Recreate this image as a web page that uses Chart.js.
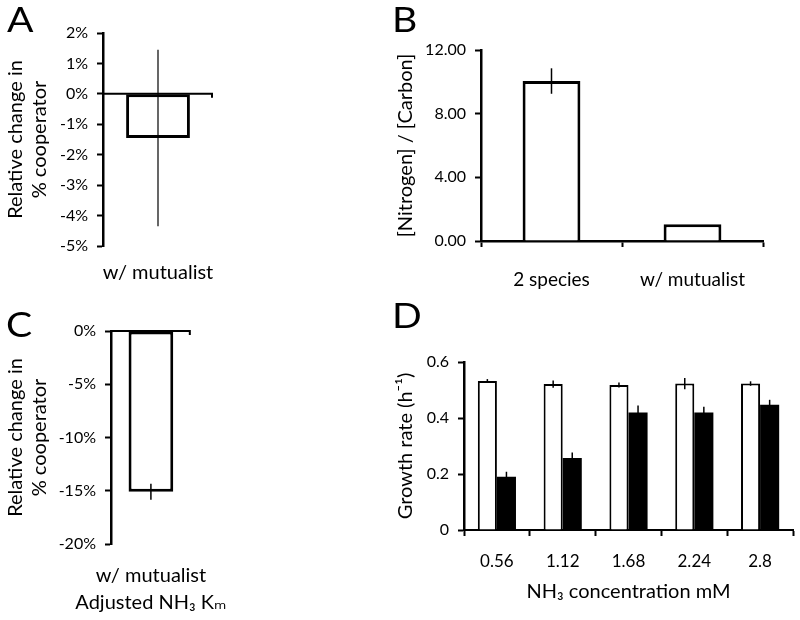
<!DOCTYPE html>
<html>
<head>
<meta charset="utf-8">
<script src="https://cdn.jsdelivr.net/npm/chart.js@4"></script>
<style>
  body { margin: 0; background: #fff; width: 800px; height: 620px; position: relative; overflow: hidden; }
  canvas { position: absolute; }
  .letter { position: absolute; font-family: Lato, "DejaVu Sans", sans-serif; font-size: 34px; color: #000; line-height: 1; transform-origin: left top; transform: scaleX(1.15); }
</style>
</head>
<body>
<canvas id="chartA" width="260" height="300" style="left:0; top:0;"></canvas>
<canvas id="chartB" width="410" height="300" style="left:390px; top:0;"></canvas>
<canvas id="chartC" width="260" height="320" style="left:0; top:300px;"></canvas>
<canvas id="chartD" width="410" height="320" style="left:390px; top:300px;"></canvas>

<div class="letter" style="left:7px; top:2px;">A</div>
<div class="letter" style="left:392px; top:2px;">B</div>
<div class="letter" style="left:6px; top:307px;">C</div>
<div class="letter" style="left:392px; top:298px;">D</div>

<script>
/* Data */
var catA = ['w/ mutualist'];
var valA = [-1.45];
var errA = [2.9];

var catB = ['2 species', 'w/ mutualist'];
var valB = [10.05, 1.05];
var errB = [0.8, 0];

var catC = [['w/ mutualist', 'Adjusted NH\u2083 K\u2098']];
var valC = [-15.1];
var errC = [0.75];

var catD = ['0.56', '1.12', '1.68', '2.24', '2.8'];
var whiteD = [0.532, 0.521, 0.518, 0.523, 0.523];
var whiteErrD = [0.007, 0.013, 0.009, 0.02, 0.008];
var blackD = [0.19, 0.257, 0.42, 0.42, 0.447];
var blackErrD = [0.018, 0.02, 0.025, 0.02, 0.018];

Chart.defaults.font.family = 'Lato, "DejaVu Sans", sans-serif';
Chart.defaults.color = '#000';
Chart.defaults.animation = false;

/* error bars, drawn from the y scale */
const errorBars = {
  id: 'errorBars',
  afterDatasetsDraw(chart) {
    const ctx = chart.ctx, y = chart.scales.y;
    chart.data.datasets.forEach(function (ds, i) {
      if (!ds.errors) return;
      chart.getDatasetMeta(i).data.forEach(function (bar, j) {
        const v = ds.data[j], e = ds.errors[j];
        if (!e) return;
        ctx.save();
        ctx.strokeStyle = '#000';
        ctx.lineWidth = ds.errorWidth || 1.5;
        ctx.beginPath();
        ctx.moveTo(bar.x, y.getPixelForValue(v + e));
        ctx.lineTo(bar.x, y.getPixelForValue(v - e));
        ctx.stroke();
        ctx.restore();
      });
    });
  }
};

/* horizontal axis line at zero (panels A and C) */
const zeroAxis = {
  id: 'zeroAxis',
  afterDatasetsDraw(chart) {
    const ctx = chart.ctx, y0 = chart.scales.y.getPixelForValue(0);
    const a = chart.chartArea;
    ctx.save();
    ctx.strokeStyle = '#000';
    ctx.lineWidth = 2;
    ctx.beginPath();
    ctx.moveTo(a.left, y0);
    ctx.lineTo(a.right, y0);
    ctx.moveTo(a.right - 1, y0);
    ctx.lineTo(a.right - 1, y0 + 4);
    ctx.stroke();
    ctx.restore();
  }
};

// places the plot area: left/top/right/bottom in canvas pixels
function area(l, t, r, b, W, H, padBottom) {
  return {
    layout: { padding: { left: 0, top: t, right: W - r, bottom: padBottom || 0 } },
    yFit: function (s) { s.width = l; },
    xFit: function (s) { s.height = H - b - (padBottom || 0); }
  };
}

function yAxis(fit, min, max, step, fmt, title) {
  return {
    min: min, max: max,
    afterFit: fit,
    border: { color: '#000', width: 2.5 },
    grid: { drawOnChartArea: false, color: '#000', tickLength: 6, tickWidth: 2 },
    ticks: { stepSize: step, font: { size: 16 }, padding: 9, callback: fmt },
    title: { display: true, text: title, font: { size: 20, lineHeight: 1.2 }, padding: { top: 4, bottom: 4 } }
  };
}

/* Panel A */
var la = area(103, 33, 213, 246, 260, 300);
new Chart('chartA', {
  type: 'bar',
  data: {
    labels: catA,
    datasets: [{ data: valA, errors: errA, errorWidth: 1.2, backgroundColor: '#fff', borderColor: '#000', borderWidth: 3, borderSkipped: false, barPercentage: 0.58, categoryPercentage: 1 }]
  },
  options: {
    responsive: false, maintainAspectRatio: false,
    layout: la.layout,
    plugins: { legend: { display: false }, tooltip: { enabled: false } },
    scales: {
      x: { afterFit: la.xFit, border: { display: false }, grid: { display: false }, ticks: { font: { size: 20 }, padding: 7 } },
      y: yAxis(la.yFit, -5, 2, 1, function (v) { return v + '%'; }, ['Relative change in', '% cooperator'])
    }
  },
  plugins: [errorBars, zeroAxis]
});

/* Panel B */
var lb = area(91, 50, 373, 241, 410, 300);
new Chart('chartB', {
  type: 'bar',
  data: {
    labels: catB,
    datasets: [{ data: valB, errors: errB, backgroundColor: '#fff', borderColor: '#000', borderWidth: 3, borderSkipped: 'start', barPercentage: 0.41, categoryPercentage: 1 }]
  },
  options: {
    responsive: false, maintainAspectRatio: false,
    layout: lb.layout,
    plugins: { legend: { display: false }, tooltip: { enabled: false } },
    scales: {
      x: { afterFit: lb.xFit, border: { color: '#000', width: 2.5 }, grid: { offset: true, drawOnChartArea: false, color: '#000', tickLength: 6, tickWidth: 2 }, ticks: { font: { size: 19 }, padding: 21 } },
      y: yAxis(lb.yFit, 0, 12, 4, function (v) { return v.toFixed(2); }, '[Nitrogen] / [Carbon]')
    }
  },
  plugins: [errorBars]
});

/* Panel C */
var lc = area(111, 31, 213, 244, 260, 320);
new Chart('chartC', {
  type: 'bar',
  data: {
    labels: catC,
    datasets: [{ data: valC, errors: errC, backgroundColor: '#fff', borderColor: '#000', borderWidth: 3, borderSkipped: false, barPercentage: 0.56, categoryPercentage: 1 }]
  },
  options: {
    responsive: false, maintainAspectRatio: false,
    layout: lc.layout,
    plugins: { legend: { display: false }, tooltip: { enabled: false } },
    scales: {
      x: { afterFit: lc.xFit, border: { display: false }, grid: { display: false }, ticks: { font: { size: 20, lineHeight: 1.35 }, padding: 10 } },
      y: yAxis(lc.yFit, -20, 0, 5, function (v) { return v + '%'; }, ['Relative change in', '% cooperator'])
    }
  },
  plugins: [errorBars, zeroAxis]
});

/* Panel D */
var ld = area(74, 62, 403, 230, 410, 320, 16);
new Chart('chartD', {
  type: 'bar',
  data: {
    labels: catD,
    datasets: [
      { data: whiteD, errors: whiteErrD, backgroundColor: '#fff', borderColor: '#000', borderWidth: 2, borderSkipped: 'start', barPercentage: 1, categoryPercentage: 0.58 },
      { data: blackD, errors: blackErrD, backgroundColor: '#000', borderColor: '#000', borderWidth: 0, barPercentage: 1, categoryPercentage: 0.58 }
    ]
  },
  options: {
    responsive: false, maintainAspectRatio: false,
    layout: ld.layout,
    plugins: { legend: { display: false }, tooltip: { enabled: false } },
    scales: {
      x: {
        afterFit: ld.xFit,
        border: { color: '#000', width: 2 },
        grid: { offset: true, drawOnChartArea: false, color: '#000', tickLength: 6, tickWidth: 2 },
        ticks: { font: { size: 17 }, padding: 15 },
        title: { display: true, text: 'NH\u2083 concentration mM', font: { size: 20 }, padding: { top: 4, bottom: 0 } }
      },
      y: yAxis(ld.yFit, 0, 0.6, 0.2, function (v) { return v === 0 ? '0' : v.toFixed(1); }, 'Growth rate (h\u207B\u00B9)')
    }
  },
  plugins: [errorBars]
});
</script>
</body>
</html>
